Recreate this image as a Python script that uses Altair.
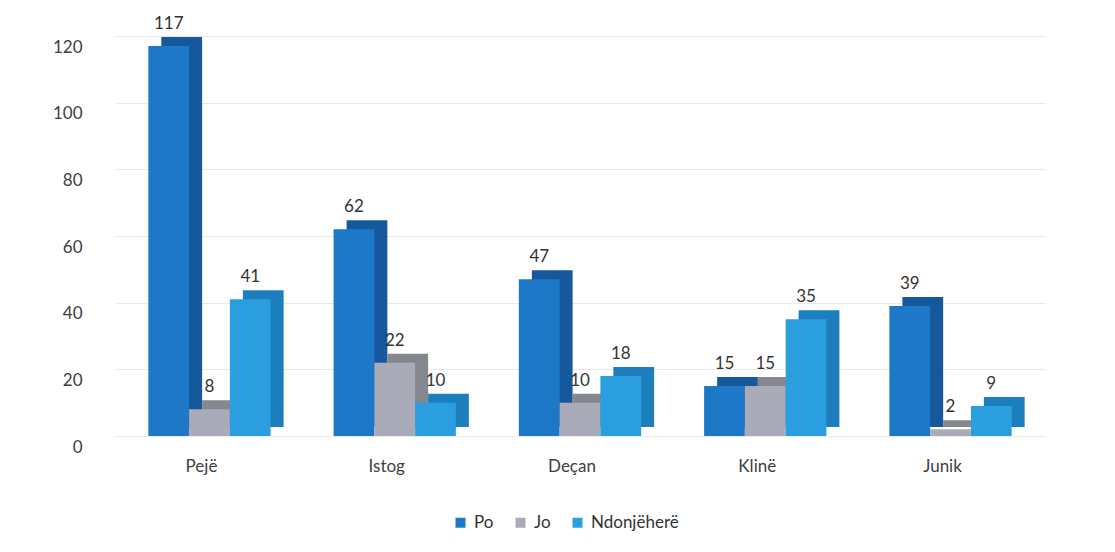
import altair as alt
import pandas as pd

categories = ["Pejë", "Istog", "Deçan", "Klinë", "Junik"]
series = ["Po", "Jo", "Ndonjëherë"]
po = [117, 62, 47, 15, 39]
jo = [8, 22, 10, 15, 2]
nd = [41, 10, 18, 35, 9]
front_colors = ["#1E78C8", "#A9ABB8", "#2B9EE0"]
side_colors = ["#15599C", "#85878F", "#1C7EBD"]

rows = []
for i, c in enumerate(categories):
    for s, vals in zip(series, [po, jo, nd]):
        rows.append({"Komuna": c, "Seria": s, "Ana": s + " ", "Vlera": vals[i]})
df = pd.DataFrame(rows)

FONT = "Lato"
W = 930
P_IN, P_OUT = 0.34, 0.18
DEPTH_X, DEPTH_Y = 13, 9
bandwidth = W / (len(categories) - P_IN + 2 * P_OUT) * (1 - P_IN)

x = alt.X("Komuna:N", sort=categories, title=None,
          scale=alt.Scale(paddingInner=P_IN, paddingOuter=P_OUT),
          axis=alt.Axis(labelAngle=0, labelFontSize=17, labelColor="#404040",
                        labelFont=FONT, labelPadding=22, labelOffset=-8,
                        domain=False, ticks=False, grid=False))
y = alt.Y("Vlera:Q", title=None,
          scale=alt.Scale(domain=[0, 120], nice=False),
          axis=alt.Axis(values=[0, 20, 40, 60, 80, 100, 120], labelFontSize=17,
                        labelColor="#404040", labelFont=FONT, labelPadding=33,
                        labelOffset=11, domain=False, ticks=False,
                        gridColor="#E8E8E8", gridWidth=1))

back = alt.Chart(df).mark_bar(yOffset=-DEPTH_Y, y2Offset=-DEPTH_Y).encode(
    x=x,
    xOffset=alt.XOffset("Seria:N", sort=series,
                        scale=alt.Scale(range=[DEPTH_X, bandwidth + DEPTH_X],
                                        paddingInner=0, paddingOuter=0)),
    y=y,
    color=alt.Color("Ana:N", scale=alt.Scale(domain=[s + " " for s in series],
                                             range=side_colors), legend=None),
)

xo = alt.XOffset("Seria:N", sort=series,
                 scale=alt.Scale(paddingInner=0, paddingOuter=0))

front = alt.Chart(df).mark_bar().encode(
    x=x, xOffset=xo, y=y,
    color=alt.Color("Seria:N", sort=series,
                    scale=alt.Scale(domain=series, range=front_colors),
                    legend=alt.Legend(title=None, orient="none", direction="horizontal",
                                      legendX=337, legendY=478, symbolType="square",
                                      symbolSize=100, symbolStrokeWidth=0,
                                      labelFontSize=17, labelFont=FONT,
                                      labelColor="#333333", columnPadding=18,
                                      labelOffset=5)),
)

labels = alt.Chart(df).mark_text(baseline="bottom", dy=-13, fontSize=17,
                                 font=FONT, color="#333333").encode(
    x=x, xOffset=xo, y=y, text="Vlera:Q",
)

chart = alt.layer(back, alt.layer(front, labels)).resolve_scale(
    color="independent", xOffset="independent"
).properties(
    width=W, height=400,
    autosize=alt.AutoSizeParams(type="none"),
    padding={"left": 115, "top": 36, "right": 70, "bottom": 116},
    view=alt.ViewBackground(stroke="transparent", strokeWidth=0),
).configure_view(strokeWidth=0, stroke="transparent").configure(background="white")

chart.save("out.html", embed_options={"renderer": "svg", "actions": False})
